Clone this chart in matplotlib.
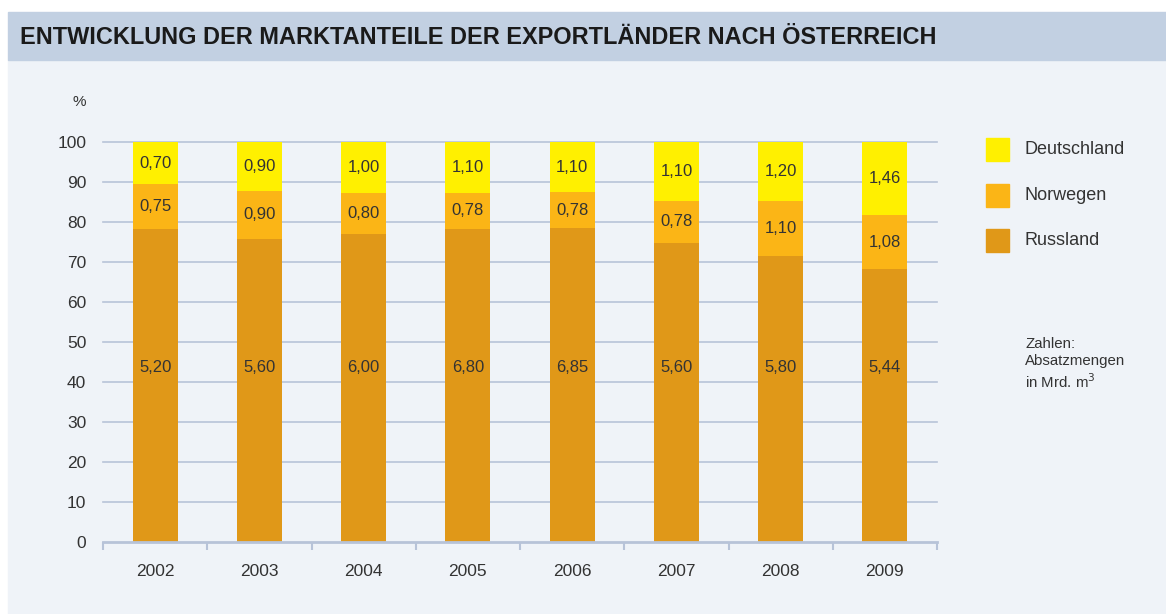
import matplotlib.pyplot as plt
from matplotlib.patches import Rectangle
import numpy as np

# Absatzmengen in Mrd. m3 je Lieferland
years = ["2002", "2003", "2004", "2005", "2006", "2007", "2008", "2009"]
russland = [5.20, 5.60, 6.00, 6.80, 6.85, 5.60, 5.80, 5.44]
norwegen = [0.75, 0.90, 0.80, 0.78, 0.78, 0.78, 1.10, 1.08]
deutschland = [0.70, 0.90, 1.00, 1.10, 1.10, 1.10, 1.20, 1.46]

c_ru = "#e09818"
c_no = "#fbb516"
c_de = "#fff000"
grid_c = "#b7c3d8"
txt = "#333333"
panel = "#eff3f8"
band = "#c2d0e2"

ru = np.array(russland)
no = np.array(norwegen)
de = np.array(deutschland)
total = ru + no + de
p_ru = ru / total * 100
p_no = no / total * 100
p_de = de / total * 100

plt.rcParams["font.family"] = ["Liberation Sans", "DejaVu Sans"]

fig = plt.figure(figsize=(11.66, 6.14), dpi=100)
fig.patch.set_facecolor("white")

# panel background + title band, kept behind the axes
x0 = 8 / 1166
fig.patches.append(Rectangle((x0, 0), 1 - x0, 1 - 60 / 614,
                             transform=fig.transFigure, color=panel, zorder=-2))
fig.patches.append(Rectangle((x0, 1 - 60 / 614), 1 - x0, 48 / 614,
                             transform=fig.transFigure, color=band, zorder=-2))
fig.text(20 / 1166, 1 - 38 / 614,
         "ENTWICKLUNG DER MARKTANTEILE DER EXPORTLÄNDER NACH ÖSTERREICH",
         fontsize=16.9, fontweight="bold", color="#1a1a1a", va="center")

ax = fig.add_axes([103 / 1166, 1 - 542 / 614, 834 / 1166, 400 / 614])
ax.set_facecolor("none")
x = np.arange(len(years))
w = 0.43

for y in range(10, 101, 10):
    ax.axhline(y, color=grid_c, lw=1.2, zorder=1, clip_on=False)

ax.bar(x, p_ru, w, color=c_ru, zorder=2, label="Russland")
ax.bar(x, p_no, w, bottom=p_ru, color=c_no, zorder=2, label="Norwegen")
ax.bar(x, p_de, w, bottom=p_ru + p_no, color=c_de, zorder=2, label="Deutschland")

fmt = lambda v: f"{v:.2f}".replace(".", ",")
for i in range(len(years)):
    ax.text(x[i], 43.75, fmt(ru[i]), ha="center", va="center", fontsize=12, color=txt, zorder=3)
    ax.text(x[i], p_ru[i] + p_no[i] / 2, fmt(no[i]), ha="center", va="center",
            fontsize=12, color=txt, zorder=3)
    ax.text(x[i], p_ru[i] + p_no[i] + p_de[i] / 2, fmt(de[i]), ha="center", va="center",
            fontsize=12, color=txt, zorder=3)

ax.set_xlim(-0.5, len(years) - 0.5)
ax.set_ylim(0, 100)
ax.set_yticks(range(0, 101, 10))
ax.set_yticklabels([str(v) for v in range(0, 101, 10)], fontsize=12.5, color=txt)
ax.tick_params(axis="y", length=0, pad=12)
ax.set_xticks(x)
ax.set_xticklabels(years, fontsize=12.5, color=txt)
ax.tick_params(axis="x", which="major", length=0, pad=16)
ax.set_xticks(np.arange(-0.5, len(years)), minor=True)
ax.tick_params(axis="x", which="minor", length=6, width=1.5, color=grid_c)
for s in ["top", "right", "left"]:
    ax.spines[s].set_visible(False)
ax.spines["bottom"].set_color(grid_c)
ax.spines["bottom"].set_linewidth(2)

ax.text(-0.73, 110, "%", fontsize=11, color=txt, ha="center", va="center")

# legend
items = [("Deutschland", c_de, 149), ("Norwegen", c_no, 195), ("Russland", c_ru, 240)]
for name, col, yy in items:
    fig.patches.append(Rectangle((986 / 1166, 1 - (yy + 12) / 614), 23 / 1166, 23 / 614,
                                 transform=fig.transFigure, color=col))
    fig.text(1024 / 1166, 1 - (yy + 1) / 614, name, fontsize=13, color=txt, va="center")

fig.text(1025 / 1166, 1 - 364 / 614, "Zahlen:\nAbsatzmengen\nin Mrd. m$^3$",
         fontsize=10.8, color=txt, va="center", linespacing=1.25)

fig.savefig("out.png", dpi=100, facecolor=fig.get_facecolor())
